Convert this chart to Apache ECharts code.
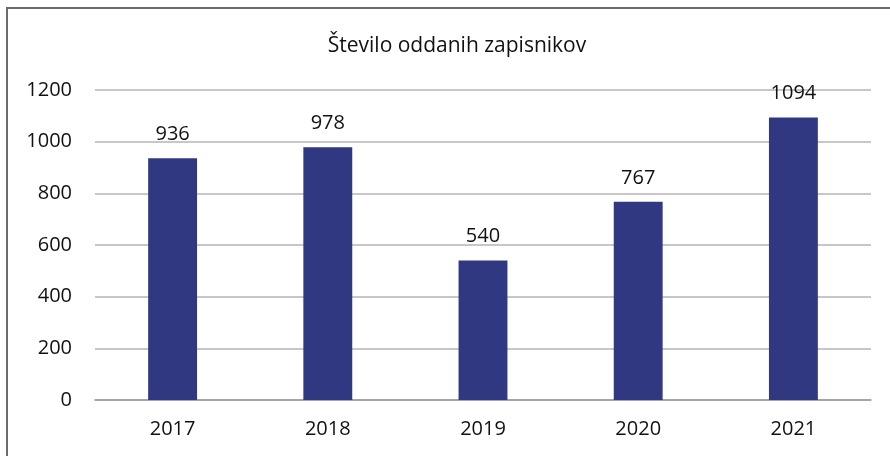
<!DOCTYPE html>
<html>
<head>
<meta charset="utf-8">
<script src="https://cdn.jsdelivr.net/npm/echarts@6/dist/echarts.min.js"></script>
<style>
  body { margin: 0; background: #fff; }
  #frame { position: absolute; left: 6px; top: 7px; width: 884px; height: 449px;
           border-left: 2px solid #6b6b6b; border-top: 2px solid #6b6b6b; box-sizing: border-box; }
  #main { position: absolute; left: 0; top: 0; width: 890px; height: 456px; }
</style>
</head>
<body>
<div id="frame"></div>
<div id="main"></div>
<script>
// podatki
var years = ['2017', '2018', '2019', '2020', '2021'];
var counts = [936, 978, 540, 767, 1094];

var myChart = echarts.init(document.getElementById('main'));
var font = 'Open Sans, Noto Sans, sans-serif';

option = {
	animation: false,
	title: {
		text: 'Število oddanih zapisnikov',
		left: 452,
		top: 31,
		textAlign: 'center',
		textStyle: { fontSize: 21, fontWeight: 'normal', color: '#111', fontFamily: font }
	},
	grid: { left: 95, right: 19, top: 90, bottom: 56 },
	xAxis: {
		type: 'category',
		data: years,
		axisLine: { lineStyle: { color: '#9a9a9a', width: 1.5 } },
		axisTick: { show: false },
		axisLabel: { color: '#111', fontSize: 20, margin: 19, fontFamily: font }
	},
	yAxis: {
		type: 'value',
		min: 0,
		max: 1200,
		interval: 200,
		axisLine: { show: false },
		axisTick: { show: false },
		splitLine: { lineStyle: { color: '#b5b5b5', width: 1.5 } },
		axisLabel: {
			color: '#111', fontSize: 20, margin: 23, fontFamily: font,
			formatter: function (v) { return String(v); }
		}
	},
	series: [
		{
			type: 'bar',
			data: counts,
			barWidth: '31.5%',
			itemStyle: { color: '#2f3880' },
			label: {
				show: true,
				position: 'top',
				distance: 14,
				color: '#111',
				fontSize: 20,
				fontFamily: font
			}
		}
	]
};
myChart.setOption(option);
</script>
</body>
</html>
